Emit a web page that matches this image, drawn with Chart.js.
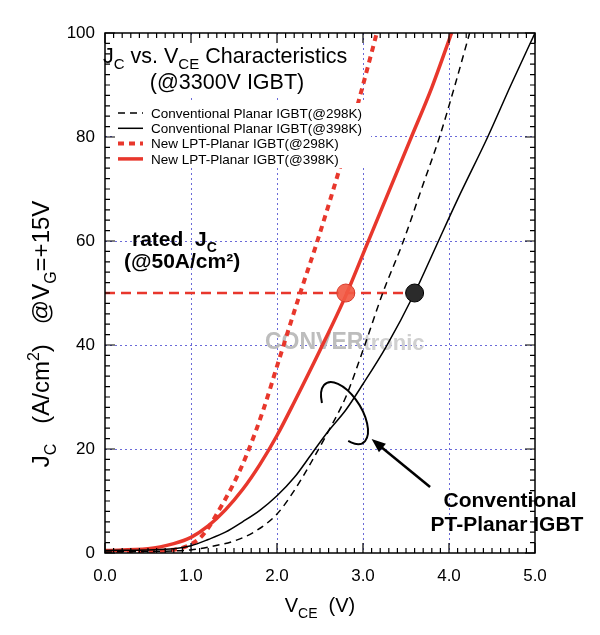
<!DOCTYPE html>
<html>
<head>
<meta charset="utf-8">
<script src="https://cdn.jsdelivr.net/npm/chart.js@4.4.0/dist/chart.umd.min.js"></script>
<style>
  html, body { margin: 0; padding: 0; background: #fff; }
  #wrap { width: 600px; height: 635px; position: relative; }
</style>
</head>
<body>
<div id="wrap"><canvas id="jcChart"></canvas></div>
<script>
// Jc vs Vce characteristics (3300V IGBT)

// Conventional Planar IGBT @298K (black dashed)
const convColdV = [0, 0.5, 1.0, 1.25, 1.5, 1.75, 2.0, 2.2, 2.4, 2.6, 2.8, 3.0, 3.23, 3.47, 3.68, 3.89, 4.07, 4.24];
const convColdJ = [0.2, 0.3, 0.6, 1.3, 2.3, 4.2, 7.5, 12, 17.5, 23.5, 30, 39, 50, 60, 70, 80, 90, 100];

// Conventional Planar IGBT @398K (black solid)
const convHotV = [0, 0.5, 0.8, 1.0, 1.2, 1.4, 1.6, 1.8, 2.0, 2.2, 2.4, 2.6, 2.8, 3.0, 3.27, 3.6, 3.85, 4.1, 4.45, 4.72, 5.0];
const convHotJ = [0.5, 0.6, 0.8, 1.4, 2.6, 4.0, 6.0, 8.2, 11, 14.5, 19, 23.5, 27.5, 32.5, 39.7, 50, 59, 68, 80, 90, 100];

// New LPT-Planar IGBT @298K (red dashed)
const lptColdV = [0, 0.6, 0.9, 1.1, 1.2, 1.3, 1.5, 1.65, 1.84, 2.03, 2.27, 2.46, 2.62, 2.8, 3.0, 3.16];
const lptColdJ = [0.2, 0.4, 1.0, 2.8, 4.8, 7.5, 13.5, 19, 27.5, 37.5, 50, 59.5, 68, 78, 90, 100];

// New LPT-Planar IGBT @398K (red solid)
const lptHotV = [0, 0.5, 0.8, 1.0, 1.2, 1.4, 1.6, 1.8, 2.0, 2.2, 2.5, 2.8, 3.05, 3.3, 3.55, 3.8, 4.03];
const lptHotJ = [0.5, 0.8, 1.8, 3.0, 5.2, 8.3, 12.2, 17.0, 22.6, 29.0, 39.0, 49.5, 59.5, 69.5, 79.5, 89.5, 100];

// rated current marker line and operating points at 50A/cm2
const ratedJ = 50;
const ratedLineV = [0, 3.6];
const lptRatedV = 2.8;
const convRatedV = 3.6;

const seriesLabels = [
  'Conventional Planar IGBT(@298K)',
  'Conventional Planar IGBT(@398K)',
  'New LPT-Planar IGBT(@298K)',
  'New LPT-Planar IGBT(@398K)'
];

const RED = '#e8372c';
const FONT = '"Liberation Sans", Arial, Helvetica, sans-serif';

function toPoints(xs, ys) {
  return xs.map((v, i) => ({ x: v, y: ys[i] }));
}

function curve(label, xs, ys, color, width, dash) {
  return {
    type: 'scatter',
    label: label,
    data: toPoints(xs, ys),
    showLine: true,
    borderColor: color,
    borderWidth: width,
    borderDash: dash,
    pointRadius: 0,
    cubicInterpolationMode: 'monotone',
    order: 1
  };
}

// draws text made of normal / sub / sup parts
function richText(ctx, parts, x, y, size, weight, align) {
  const fontOf = p => {
    const s = p[1] === 'n' ? size : Math.round(size * 0.68);
    return weight + ' ' + s + 'px ' + FONT;
  };
  let total = 0;
  parts.forEach(p => { ctx.font = fontOf(p); total += ctx.measureText(p[0]).width; });
  let cx = align === 'center' ? x - total / 2 : x;
  ctx.textAlign = 'left';
  ctx.textBaseline = 'alphabetic';
  parts.forEach(p => {
    ctx.font = fontOf(p);
    let dy = 0;
    if (p[1] === 'sub') dy = size * 0.3;
    if (p[1] === 'sup') dy = -size * 0.42;
    ctx.fillText(p[0], cx, y + dy);
    cx += ctx.measureText(p[0]).width;
  });
}

const decor = {
  id: 'decor',
  beforeDatasetsDraw(chart) {
    const ctx = chart.ctx;
    ctx.save();
    // watermark
    ctx.textBaseline = 'middle';
    ctx.font = 'bold 23px ' + FONT;
    ctx.fillStyle = '#bdbdbd';
    ctx.fillText('CONVER', 265, 343);
    const w = ctx.measureText('CONVER').width;
    ctx.font = 'bold 22px ' + FONT;
    ctx.fillStyle = '#d0d0d0';
    ctx.fillText('tronic', 265 + w, 344);
    ctx.restore();
  },
  afterDatasetsDraw(chart) {
    const ctx = chart.ctx;
    const xs = chart.scales.x, ys = chart.scales.y;
    const a = chart.chartArea;
    ctx.save();

    // white boxes behind title and legend
    ctx.fillStyle = '#fff';
    ctx.fillRect(a.left + 2, a.top + 2, 246, 60);
    ctx.fillRect(a.left + 8, 103, 258, 65);

    // title
    ctx.fillStyle = '#000';
    richText(ctx, [['J', 'n'], ['C', 'sub'], [' vs. V', 'n'], ['CE', 'sub'], [' Characteristics', 'n']], 103, 63, 21.5, 'normal', 'left');
    richText(ctx, [['(@3300V IGBT)', 'n']], 227, 89, 21.5, 'normal', 'center');

    // legend from the first four datasets
    chart.data.datasets.slice(0, 4).forEach((ds, i) => {
      const y = 113 + i * 15.3;
      ctx.strokeStyle = ds.borderColor;
      ctx.lineWidth = ds.borderWidth;
      ctx.setLineDash(ds.borderDash || []);
      ctx.beginPath();
      ctx.moveTo(118, y);
      ctx.lineTo(143, y);
      ctx.stroke();
      ctx.setLineDash([]);
      ctx.fillStyle = '#000';
      ctx.font = '13.5px ' + FONT;
      ctx.textBaseline = 'middle';
      ctx.textAlign = 'left';
      ctx.fillText(ds.label, 151, y + 1);
    });

    // frame
    ctx.strokeStyle = '#000';
    ctx.lineWidth = 1.5;
    ctx.strokeRect(a.left, a.top, a.right - a.left, a.bottom - a.top);

    // inside ticks on all four sides
    ctx.lineWidth = 1.2;
    ctx.beginPath();
    for (let i = 0; i <= 50; i++) {
      const v = i / 10;
      const len = i % 10 === 0 ? 10 : 5;
      const p = xs.getPixelForValue(v);
      ctx.moveTo(p, a.bottom); ctx.lineTo(p, a.bottom - len);
      ctx.moveTo(p, a.top); ctx.lineTo(p, a.top + len);
    }
    for (let i = 0; i <= 50; i++) {
      const v = i * 2;
      const len = i % 10 === 0 ? 10 : 5;
      const p = ys.getPixelForValue(v);
      ctx.moveTo(a.left, p); ctx.lineTo(a.left + len, p);
      ctx.moveTo(a.right, p); ctx.lineTo(a.right - len, p);
    }
    ctx.stroke();

    // axis titles
    ctx.fillStyle = '#000';
    richText(ctx, [['V', 'n'], ['CE', 'sub'], ['  (V)', 'n']], (a.left + a.right) / 2, 612, 20, 'normal', 'center');
    ctx.save();
    ctx.translate(49, 334);
    ctx.rotate(-Math.PI / 2);
    richText(ctx, [['J', 'n'], ['C', 'sub'], ['   (A/cm', 'n'], ['2', 'sup'], [')   @V', 'n'], ['G', 'sub'], ['=+15V', 'n']], 0, 0, 24, 'normal', 'center');
    ctx.restore();

    // rated Jc note
    richText(ctx, [['rated  J', 'n'], ['C', 'sub']], 132, 246, 21, 'bold', 'left');
    richText(ctx, [['(@50A/cm\u00B2)', 'n']], 124, 268, 21, 'bold', 'left');

    // conventional note
    ctx.font = 'bold 21px ' + FONT;
    ctx.textAlign = 'center';
    ctx.textBaseline = 'alphabetic';
    ctx.fillText('Conventional', 510, 507);
    ctx.fillText('PT-Planar IGBT', 507, 531);

    // ellipse around the conventional curves
    const ex = xs.getPixelForValue(2.785), ey = ys.getPixelForValue(26.9);
    ctx.strokeStyle = '#000';
    ctx.lineWidth = 2;
    ctx.beginPath();
    ctx.ellipse(ex, ey, 35, 17, 58 * Math.PI / 180, 126 * Math.PI / 180, 43 * Math.PI / 180);
    ctx.stroke();

    // arrow
    const tx = xs.getPixelForValue(3.1), ty = ys.getPixelForValue(21.9);
    const fx = xs.getPixelForValue(3.78), fy = ys.getPixelForValue(12.7);
    const ang = Math.atan2(ty - fy, tx - fx);
    ctx.lineWidth = 2.5;
    ctx.beginPath();
    ctx.moveTo(fx, fy);
    ctx.lineTo(tx - 10 * Math.cos(ang), ty - 10 * Math.sin(ang));
    ctx.stroke();
    ctx.fillStyle = '#000';
    ctx.beginPath();
    ctx.moveTo(tx, ty);
    ctx.lineTo(tx - 14 * Math.cos(ang) + 5.5 * Math.sin(ang), ty - 14 * Math.sin(ang) - 5.5 * Math.cos(ang));
    ctx.lineTo(tx - 14 * Math.cos(ang) - 5.5 * Math.sin(ang), ty - 14 * Math.sin(ang) + 5.5 * Math.cos(ang));
    ctx.closePath();
    ctx.fill();

    ctx.restore();
  }
};

const ctx = document.getElementById('jcChart').getContext('2d');
const jcChart = new Chart(ctx, {
  type: 'scatter',
  data: {
    datasets: [
      curve(seriesLabels[0], convColdV, convColdJ, '#000', 1.5, [7, 5]),
      curve(seriesLabels[1], convHotV, convHotJ, '#000', 1.5, []),
      curve(seriesLabels[2], lptColdV, lptColdJ, RED, 4, [6, 5]),
      curve(seriesLabels[3], lptHotV, lptHotJ, RED, 3.5, []),
      {
        type: 'scatter',
        label: 'rated',
        data: toPoints(ratedLineV, [ratedJ, ratedJ]),
        showLine: true,
        borderColor: RED,
        borderWidth: 2.5,
        borderDash: [10, 6],
        pointRadius: 0,
        order: 2
      },
      {
        type: 'scatter',
        label: 'points',
        data: [{ x: lptRatedV, y: ratedJ }, { x: convRatedV, y: ratedJ }],
        pointRadius: 9,
        pointBackgroundColor: ['rgba(242,90,68,0.92)', '#2b2b2b'],
        pointBorderColor: ['#d83a2a', '#000'],
        pointBorderWidth: 1,
        order: 0
      }
    ]
  },
  options: {
    responsive: true,
    maintainAspectRatio: false,
    animation: false,
    layout: { padding: { top: 33, right: 65, bottom: 0, left: 0 } },
    plugins: {
      legend: { display: false },
      tooltip: { enabled: false }
    },
    scales: {
      x: {
        type: 'linear',
        min: 0,
        max: 5,
        afterFit: s => { s.height = 82; },
        ticks: {
          stepSize: 1,
          padding: 13,
          color: '#000',
          font: { family: FONT, size: 17 },
          callback: v => v.toFixed(1)
        },
        grid: {
          drawTicks: false,
          lineWidth: 1,
          color: c => (c.tick && (c.tick.value === 0 || c.tick.value === 5)) ? 'rgba(0,0,0,0)' : '#6a6ad8'
        },
        border: { display: false, dash: [2, 3] }
      },
      y: {
        type: 'linear',
        min: 0,
        max: 100,
        afterFit: s => { s.width = 105; },
        ticks: {
          stepSize: 20,
          padding: 10,
          color: '#000',
          font: { family: FONT, size: 17 }
        },
        grid: {
          drawTicks: false,
          lineWidth: 1,
          color: c => (c.tick && (c.tick.value === 0 || c.tick.value === 100)) ? 'rgba(0,0,0,0)' : '#6a6ad8'
        },
        border: { display: false, dash: [2, 3] }
      }
    }
  },
  plugins: [decor]
});
</script>
</body>
</html>
